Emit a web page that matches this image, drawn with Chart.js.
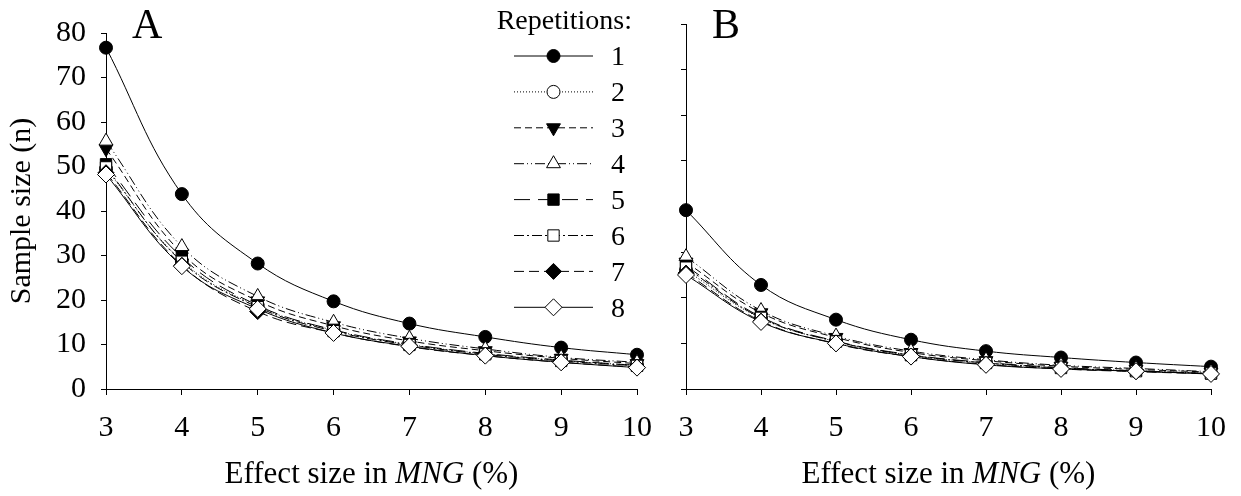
<!DOCTYPE html>
<html><head><meta charset="utf-8">
<script src="https://cdn.jsdelivr.net/npm/chart.js@4"></script>
<style>
html,body{margin:0;padding:0;background:#fff;width:1241px;height:496px;overflow:hidden}
canvas{position:absolute;top:0}
#cA{left:0}
#cB{left:640px}
</style></head><body>
<canvas id="cA" width="670" height="496" style="width:670px;height:496px"></canvas>
<canvas id="cB" width="601" height="496" style="width:601px;height:496px"></canvas>
<script>
// ---- data ----
const effectSizes = [3, 4, 5, 6, 7, 8, 9, 10];
const repetitionLabels = ['1', '2', '3', '4', '5', '6', '7', '8'];
const yTickValues = [0, 10, 20, 30, 40, 50, 60, 70, 80];

const panelA_rep1 = [76.7, 43.8, 28.2, 19.7, 14.7, 11.7, 9.3, 7.7];
const panelA_rep2 = [49.5, 28.8, 18.6, 13.2, 10.0, 7.9, 6.4, 5.3];
const panelA_rep3 = [54.0, 30.5, 19.8, 14.2, 10.8, 8.6, 6.9, 5.7];
const panelA_rep4 = [55.7, 32.0, 20.8, 15.0, 11.4, 9.0, 7.1, 6.0];
const panelA_rep5 = [50.5, 29.6, 18.8, 13.3, 10.1, 8.0, 6.5, 5.3];
const panelA_rep6 = [49.8, 28.6, 18.4, 13.0, 9.9, 7.8, 6.3, 5.2];
const panelA_rep7 = [48.6, 27.8, 17.4, 12.6, 9.5, 7.5, 6.0, 4.9];
const panelA_rep8 = [48.2, 27.6, 18.0, 12.6, 9.6, 7.5, 6.0, 4.8];

const panelB_rep1 = [39.2, 22.8, 15.2, 10.8, 8.3, 6.9, 5.8, 4.9];
const panelB_rep2 = [26.0, 15.5, 10.4, 7.4, 5.7, 4.6, 4.0, 3.4];
const panelB_rep3 = [27.8, 16.7, 11.3, 8.0, 6.2, 5.0, 4.3, 3.7];
const panelB_rep4 = [29.0, 17.2, 11.6, 8.3, 6.4, 5.2, 4.5, 3.8];
const panelB_rep5 = [27.0, 15.8, 10.5, 7.5, 5.8, 4.7, 4.0, 3.4];
const panelB_rep6 = [26.6, 15.6, 10.4, 7.4, 5.7, 4.6, 3.9, 3.4];
const panelB_rep7 = [25.4, 14.9, 9.9, 7.1, 5.4, 4.4, 3.8, 3.3];
const panelB_rep8 = [25.0, 14.7, 10.0, 7.1, 5.3, 4.4, 3.9, 3.3];

const panelA = [panelA_rep1, panelA_rep2, panelA_rep3, panelA_rep4, panelA_rep5, panelA_rep6, panelA_rep7, panelA_rep8];
const panelB = [panelB_rep1, panelB_rep2, panelB_rep3, panelB_rep4, panelB_rep5, panelB_rep6, panelB_rep7, panelB_rep8];

// ---- styles ----
const seriesStyles = [
  {dash: [], point: 'circle', rot: 0, r: 6.5, fill: '#000'},
  {dash: [1, 2], point: 'circle', rot: 0, r: 6.5, fill: '#fff'},
  {dash: [7, 4], point: 'triangle', rot: 180, r: 8, fill: '#000'},
  {dash: [10, 3, 1, 3, 1, 3], point: 'triangle', rot: 0, r: 8, fill: '#fff'},
  {dash: [16, 8], point: 'rect', rot: 0, r: 8, fill: '#000'},
  {dash: [10, 3, 2, 3], point: 'rect', rot: 0, r: 8, fill: '#fff'},
  {dash: [10, 5], point: 'rectRot', rot: 0, r: 8, fill: '#000'},
  {dash: [], point: 'rectRot', rot: 0, r: 8.5, fill: '#fff'}
];

const FONT = '"Liberation Serif", "Times New Roman", serif';

function makeDatasets(series) {
  return series.map((vals, i) => {
    const s = seriesStyles[i];
    return {
      label: repetitionLabels[i],
      data: effectSizes.map((x, k) => ({x: x, y: vals[k]})),
      borderColor: '#000',
      borderWidth: 1,
      borderDash: s.dash,
      backgroundColor: s.fill,
      pointBackgroundColor: s.fill,
      pointBorderColor: '#000',
      pointBorderWidth: 1,
      pointStyle: s.point,
      pointRotation: s.rot,
      pointRadius: s.r,
      tension: 0.4,
      fill: false,
      clip: false,
      order: series.length - i
    };
  });
}

const decorPlugin = {
  id: 'decor',
  afterDraw(chart, args, opts) {
    const ctx = chart.ctx;
    const ca = chart.chartArea;
    ctx.save();
    // panel letter
    ctx.fillStyle = '#000';
    ctx.font = '42px ' + FONT;
    ctx.textAlign = 'left';
    ctx.textBaseline = 'alphabetic';
    ctx.fillText(opts.letter, ca.left + 26, 38);
    // x title with italic part
    const parts = [['Effect size in ', 'normal'], ['MNG', 'italic'], [' (%)', 'normal']];
    let total = 0;
    parts.forEach(p => { ctx.font = p[1] + ' 31px ' + FONT; total += ctx.measureText(p[0]).width; });
    let x = (ca.left + ca.right) / 2 - total / 2;
    parts.forEach(p => {
      ctx.font = p[1] + ' 31px ' + FONT;
      ctx.fillText(p[0], x, 483);
      x += ctx.measureText(p[0]).width;
    });
    // legend
    if (opts.legend) {
      ctx.font = '28px ' + FONT;
      ctx.textAlign = 'right';
      ctx.textBaseline = 'middle';
      ctx.fillText('Repetitions:', 632, 22);
      chart.data.datasets.forEach((ds, i) => {
        const y = 56 + i * 35.9;
        ctx.strokeStyle = '#000';
        ctx.lineWidth = 1;
        ctx.setLineDash(ds.borderDash);
        ctx.beginPath();
        ctx.moveTo(514, y);
        ctx.lineTo(593, y);
        ctx.stroke();
        ctx.setLineDash([]);
        ctx.fillStyle = ds.pointBackgroundColor;
        ctx.strokeStyle = '#000';
        Chart.helpers.drawPoint(ctx, {pointStyle: ds.pointStyle, radius: ds.pointRadius, rotation: ds.pointRotation, borderWidth: 1}, 553.5, y);
        ctx.fillStyle = '#000';
        ctx.font = '28px ' + FONT;
        ctx.textAlign = 'left';
        ctx.fillText(ds.label, 611, y + 2);
      });
    }
    ctx.restore();
  }
};

function makeChart(id, series, opt) {
  return new Chart(document.getElementById(id), {
    type: 'line',
    data: {datasets: makeDatasets(series)},
    plugins: [decorPlugin],
    options: {
      responsive: false,
      animation: false,
      devicePixelRatio: 1,
      layout: {padding: {left: 0, right: opt.padRight, top: 24, bottom: 0}},
      plugins: {
        legend: {display: false},
        tooltip: {enabled: false},
        decor: {letter: opt.letter, legend: opt.legend}
      },
      scales: {
        x: {
          type: 'linear', min: 3, max: 10,
          afterBuildTicks: s => { s.ticks = effectSizes.map(v => ({value: v})); },
          afterFit: s => { s.height = 107; },
          grid: {drawOnChartArea: false, drawTicks: true, tickLength: 6, color: '#000', lineWidth: 1},
          border: {display: true, color: '#000', width: 1},
          ticks: {color: '#000', font: {family: FONT, size: 30}, padding: 15, maxRotation: 0, autoSkip: false}
        },
        y: {
          type: 'linear', min: 0, max: 80,
          afterBuildTicks: s => { s.ticks = yTickValues.map(v => ({value: v})); },
          afterFit: s => { s.width = opt.yWidth; },
          grid: {drawOnChartArea: false, drawTicks: true, tickLength: 5, color: '#000', lineWidth: 1},
          border: {display: true, color: '#000', width: 1},
          ticks: {display: opt.yLabels, color: '#000', font: {family: FONT, size: 30}, padding: 15},
          title: {display: opt.yLabels, text: 'Sample size (n)', color: '#000', font: {family: FONT, size: 30}, padding: {top: 4, bottom: 0}}
        }
      }
    }
  });
}

makeChart('cA', panelA, {letter: 'A', legend: true, padRight: 33, yWidth: 106, yLabels: true});
makeChart('cB', panelB, {letter: 'B', legend: false, padRight: 25, yWidth: 46, yLabels: false});
</script>
</body></html>
